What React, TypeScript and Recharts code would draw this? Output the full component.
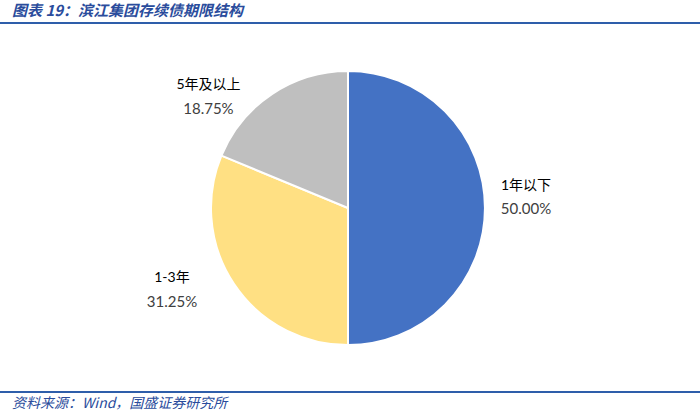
import React from "react";
import { PieChart, Pie, Cell } from "recharts";

const categories = ["1年以下", "1-3年", "5年及以上"];
const shares = [50.0, 31.25, 18.75];
const colors = ["#4472C4", "#FFE083", "#BFBFBF"];

const data = categories.map((name, i) => ({ name, value: shares[i] }));

const RAD = Math.PI / 180;
const nudges = [
  [6, -12],
  [-33, -15],
  [-44, 31],
];

const renderLabel = (props: any) => {
  const { cx, cy, midAngle, outerRadius, index } = props;
  const r = outerRadius + 35;
  const x = cx + r * Math.cos(-midAngle * RAD) + nudges[index][0];
  const y = cy + r * Math.sin(-midAngle * RAD) + nudges[index][1];
  return (
    <g>
      <text
        x={x}
        y={y - 12}
        textAnchor="middle"
        dominantBaseline="central"
        fontSize={14}
        fill="#000"
        fontFamily="Lato, 'Noto Sans CJK SC', sans-serif"
      >
        {data[index].name}
      </text>
      <text
        x={x}
        y={y + 12}
        textAnchor="middle"
        dominantBaseline="central"
        fontSize={15}
        fill="#404040"
        fontFamily="Lato, 'Noto Sans CJK SC', sans-serif"
      >
        {shares[index].toFixed(2) + "%"}
      </text>
    </g>
  );
};

export default function App() {
  return (
    <div
      style={{
        position: "absolute",
        left: 0,
        top: 0,
        width: 700,
        height: 411,
        background: "#fff",
        overflow: "hidden",
      }}
    >
      <div
        style={{
          position: "absolute",
          left: 12,
          top: 0,
          fontFamily: "'Noto Sans CJK SC', sans-serif",
          fontWeight: 700,
          fontStyle: "italic",
          fontSize: 15,
          color: "#2A4C9C",
          whiteSpace: "nowrap",
          lineHeight: "20px",
          letterSpacing: 0,
        }}
      >
        图表 19：滨江集团存续债期限结构
      </div>
      <div
        style={{
          position: "absolute",
          left: 0,
          top: 22,
          width: 700,
          height: 2,
          background: "#2E5EAA",
        }}
      />
      <div style={{ position: "absolute", left: 0, top: 0 }}>
        <PieChart
          width={700}
          height={411}
          margin={{ top: 0, right: 0, bottom: 0, left: 0 }}
        >
          <Pie
            data={data}
            dataKey="value"
            nameKey="name"
            cx={348}
            cy={208}
            outerRadius={137}
            startAngle={90}
            endAngle={-270}
            stroke="#fff"
            strokeWidth={2}
            label={renderLabel}
            labelLine={false}
            isAnimationActive={false}
          >
            {data.map((d, i) => (
              <Cell key={d.name} fill={colors[i]} />
            ))}
          </Pie>
        </PieChart>
      </div>
      <div
        style={{
          position: "absolute",
          left: 0,
          top: 391,
          width: 700,
          height: 2,
          background: "#2E5EAA",
        }}
      />
      <div
        style={{
          position: "absolute",
          left: 12,
          top: 393,
          fontFamily: "'Noto Sans CJK SC', sans-serif",
          fontStyle: "italic",
          fontSize: 14,
          color: "#2A4C9C",
          whiteSpace: "nowrap",
          lineHeight: "18px",
        }}
      >
        资料来源：Wind，国盛证券研究所
      </div>
    </div>
  );
}
